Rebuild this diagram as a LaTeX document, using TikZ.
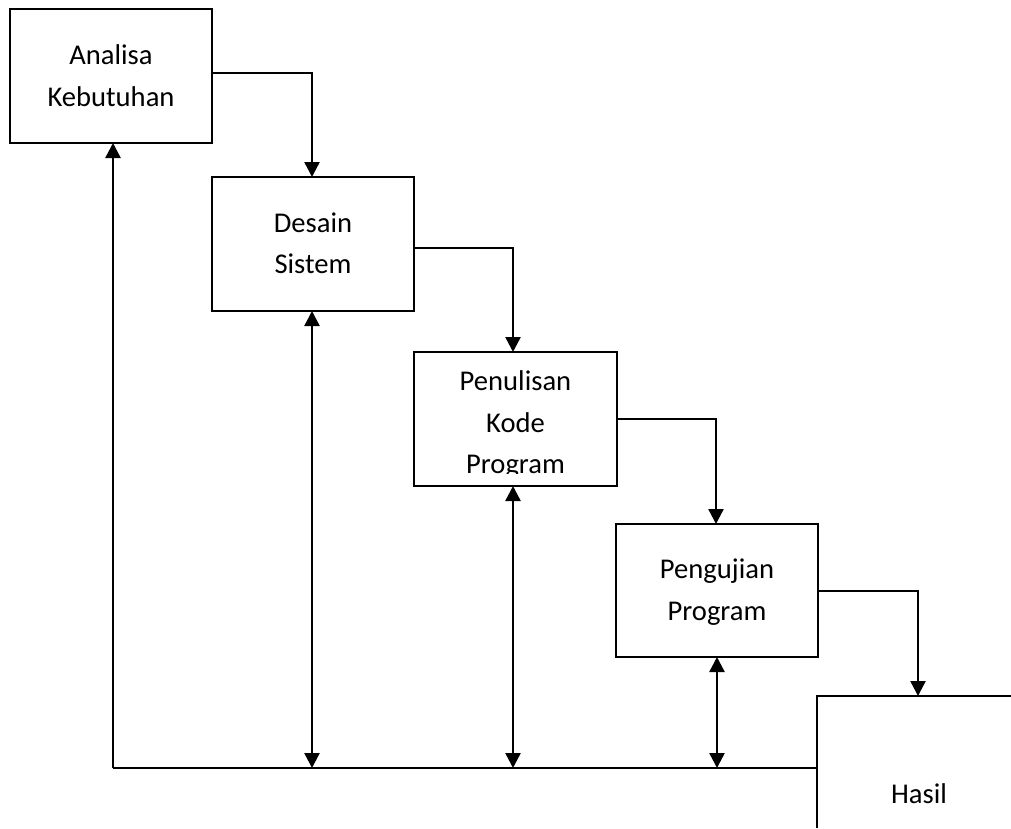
\documentclass[tikz,border=0pt]{standalone}
\usepackage{fontspec}
\setmainfont{Carlito}
\usetikzlibrary{arrows.meta}
\begin{document}
\begin{tikzpicture}[x=1pt,y=-1pt,
  box/.style={draw,line width=2.4pt,minimum width=#1,minimum height=134pt,inner sep=0pt,outer sep=0pt},
  lbl/.style={anchor=base,inner sep=0pt,font=\fontsize{28.6}{34}\selectfont},
  conn/.style={line width=2.4pt,-{Triangle[length=15pt,width=15pt]}},
  both/.style={line width=2.4pt,{Triangle[length=15pt,width=15pt]}-{Triangle[length=15pt,width=15pt]}},
  plain/.style={line width=2.4pt}]
\useasboundingbox (0,0) rectangle (1011,828);
% boxes
\node[box=202pt] (a) at (111,76) {};
\node[box=202pt] (d) at (313,244) {};
\node[box=203pt] (p) at (515.5,419) {};
\node[box=202pt,minimum height=133pt] (u) at (717,590.5) {};
% Hasil (open box)
\coordinate (hl) at (817,696);
\coordinate (htr) at (1011,696);
\coordinate (hbl) at (817,828);
\draw[plain] (htr) -- (hl) -- (hbl);
\node[lbl] (th) at (919,803) {Hasil};
% labels
\node[lbl] (ta1) at (111,64) {Analisa};
\node[lbl] (ta2) at (111,106) {Kebutuhan};
\node[lbl] (td1) at (313,232) {Desain};
\node[lbl] (td2) at (313,273) {Sistem};
\begin{scope}
\clip (414,352) rectangle (617,473.5);
\node[lbl] (tp1) at (515.5,390) {Penulisan};
\node[lbl] (tp2) at (515.5,432) {Kode};
\node[lbl] (tp3) at (515.5,473) {Program};
\end{scope}
\node[lbl] (tu1) at (717,578) {Pengujian};
\node[lbl] (tu2) at (717,620) {Program};
% forward connectors
\coordinate (c1) at (312,73);
\coordinate (c2) at (513,248);
\coordinate (c3) at (716,419);
\coordinate (c4) at (918,591);
\draw[conn] (a.east |- c1) -- (c1) -- (c1 |- d.north);
\draw[conn] (d.east |- c2) -- (c2) -- (c2 |- p.north);
\draw[conn] (p.east |- c3) -- (c3) -- (c3 |- u.north);
\draw[conn] (u.east |- c4) -- (c4) -- (c4 |- hl);
% feedback line
\coordinate (f0) at (113,768);
\coordinate (f1) at (312,768);
\coordinate (f2) at (513,768);
\coordinate (f3) at (717,768);
\draw[plain] (hl |- f0) -- (f0);
\draw[conn] (f0) -- (f0 |- a.south);
\draw[both] (f1 |- d.south) -- (f1);
\draw[both] (f2 |- p.south) -- (f2);
\draw[both] (f3 |- u.south) -- (f3);
\end{tikzpicture}
\end{document}
